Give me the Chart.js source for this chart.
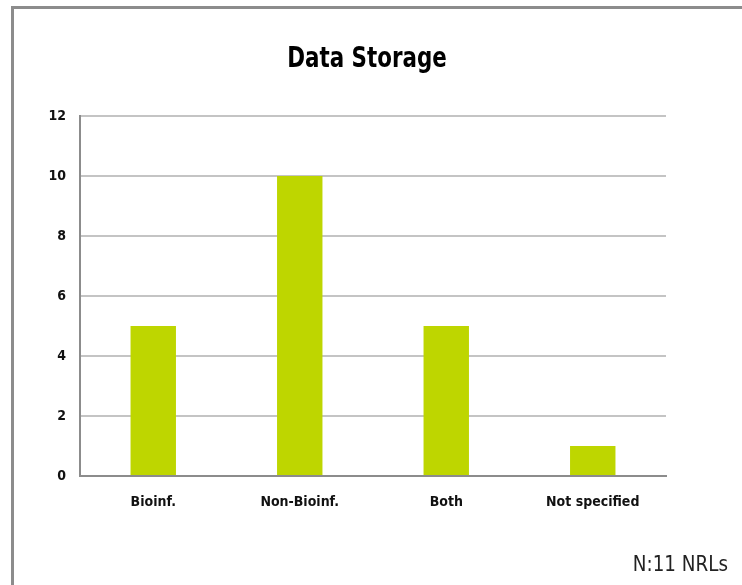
<!DOCTYPE html>
<html>
<head>
<meta charset="utf-8">
<title>Data Storage</title>
<script src="https://cdn.jsdelivr.net/npm/chart.js@4/dist/chart.umd.min.js"></script>
<style>
  html, body { margin: 0; padding: 0; background: #fff; }
  #wrap { position: relative; width: 742px; height: 585px; overflow: hidden; }
  #frame {
    position: absolute; left: 11px; top: 6px; width: 740px; height: 600px;
    border-left: 3px solid #8c8c8c; border-top: 3px solid #8c8c8c;
  }
  #myChart { position: absolute; left: 0; top: 0; }
  #heading {
    position: absolute; left: 167px; top: 38px; width: 400px; text-align: center;
    font-family: "DejaVu Sans Condensed", sans-serif; font-weight: bold;
    font-size: 28px; line-height: 40px; color: #000;
    transform: scaleX(0.85); transform-origin: 200px 0;
  }
  #note {
    position: absolute; left: 560px; top: 551px; width: 168px; text-align: right;
    font-family: "DejaVu Sans Condensed", sans-serif;
    font-size: 21px; line-height: 26px; color: #222;
    transform: scaleX(0.97); transform-origin: 168px 0;
  }
</style>
</head>
<body>
<div id="wrap">
  <div id="frame"></div>
  <canvas id="myChart" width="742" height="585"></canvas>
  <div id="heading">Data Storage</div>
  <div id="note">N:11 NRLs</div>
</div>
<script>
const FONT = '"DejaVu Sans Condensed", sans-serif';

// categories and counts
const categories = ['Bioinf.', 'Non-Bioinf.', 'Both', 'Not specified'];
const counts = [5, 10, 5, 1];
const yTicks = [0, 2, 4, 6, 8, 10, 12];

const data = {
  labels: categories,
  datasets: [{
    label: 'NRLs',
    data: counts,
    backgroundColor: '#bed600',
    borderWidth: 0,
    categoryPercentage: 1,
    barPercentage: 0.31
  }]
};

const options = {
  responsive: false,
  animation: false,
  // heading is drawn above in html, so the plot starts at 116
  layout: { padding: { left: 30, right: 76, top: 116, bottom: 0 } },
  plugins: {
    legend: { display: false },
    tooltip: { enabled: false },
    title: { display: false }
  },
  scales: {
    x: {
      grid: { display: false, drawTicks: false },
      border: { color: '#8c8c8c', width: 2 },
      ticks: { color: '#111', padding: 18, font: { family: FONT, size: 14, weight: 'bold' } },
      afterFit: (scale) => { scale.height = 109; }
    },
    y: {
      min: 0,
      max: 12,
      afterBuildTicks: (scale) => { scale.ticks = yTicks.map(v => ({ value: v })); },
      grid: { color: '#c4c4c4', lineWidth: 2, drawTicks: false },
      border: { color: '#8c8c8c', width: 2 },
      ticks: { color: '#111', padding: 14, font: { family: FONT, size: 14, weight: 'bold' } },
      afterFit: (scale) => { scale.width = 50; }
    }
  }
};

new Chart(document.getElementById('myChart'), { type: 'bar', data, options });
</script>
</body>
</html>
